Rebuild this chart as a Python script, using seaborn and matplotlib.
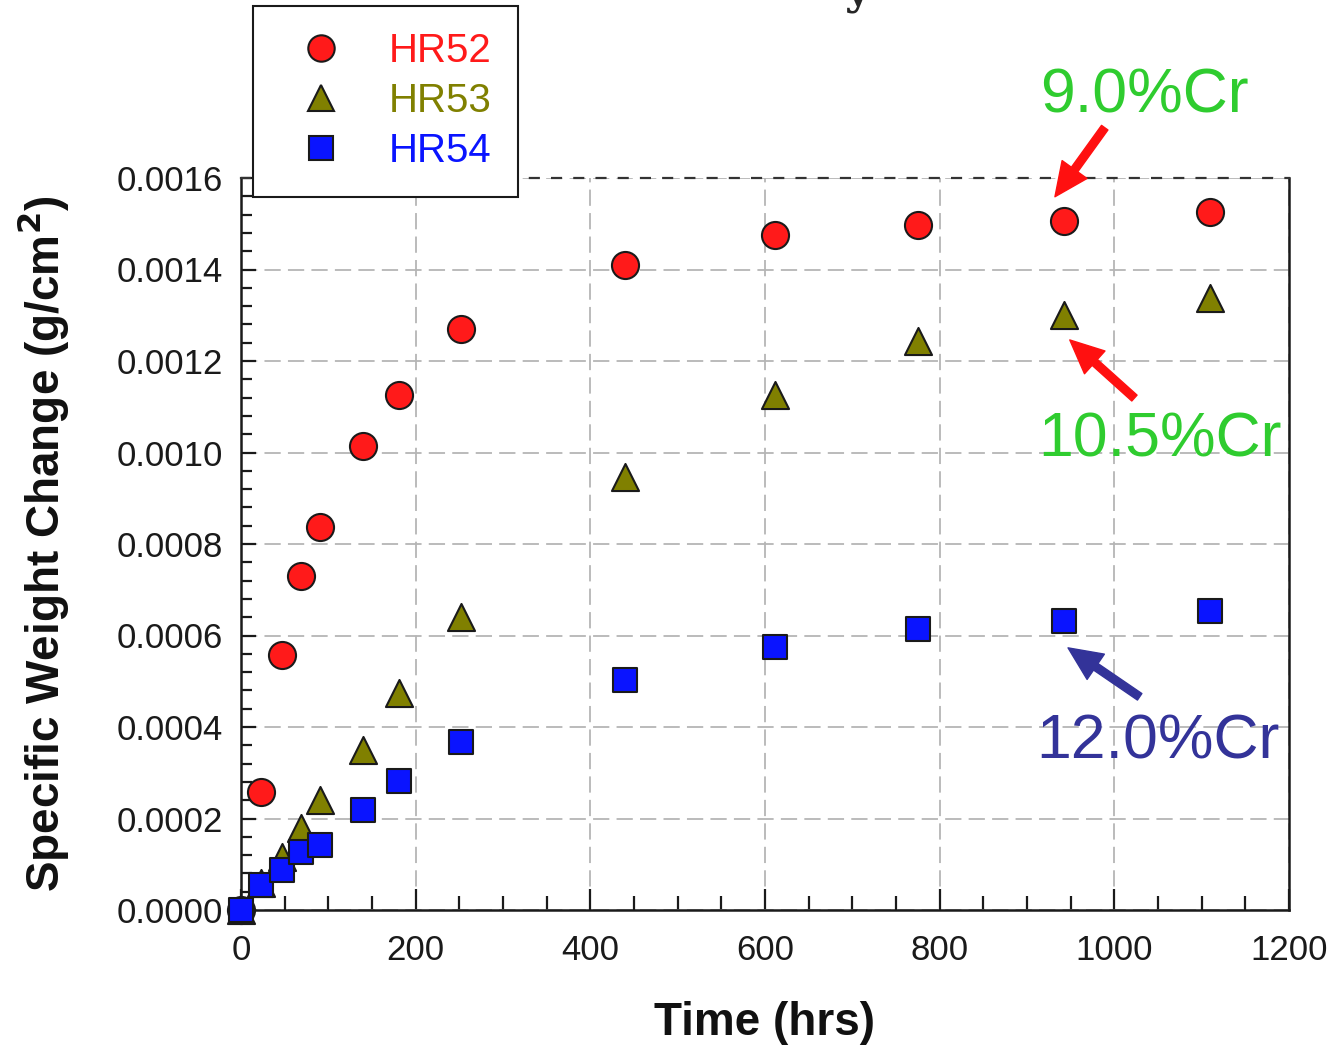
import numpy as np
import pandas as pd
import matplotlib
matplotlib.use("Agg")
import matplotlib.pyplot as plt
import seaborn as sns
from matplotlib.lines import Line2D
from matplotlib.ticker import MultipleLocator, FormatStrFormatter

time_hrs = [0, 23, 47, 69, 90, 140, 181, 252, 440, 612, 775, 942, 1109]
hr52 = [0.0, 0.000258, 0.000557, 0.00073, 0.000837, 0.001014, 0.001126, 0.00127, 0.00141, 0.001476, 0.001497, 0.001506, 0.001526]
hr53 = [0.0, 0.00006, 0.000116, 0.000179, 0.00024, 0.00035, 0.000474, 0.00064, 0.000947, 0.001126, 0.001244, 0.0013, 0.001338]
hr54 = [0.0, 0.000055, 0.000087, 0.000127, 0.000142, 0.000219, 0.000282, 0.000367, 0.000503, 0.000575, 0.000614, 0.000632, 0.000654]
series_names = ["HR52", "HR53", "HR54"]
colors = {"HR52": "#ff1a1a", "HR53": "#808000", "HR54": "#0a14ff"}
markers = {"HR52": "o", "HR53": "^", "HR54": "s"}
sizes = {"HR52": 380, "HR53": 380, "HR54": 290}

df = pd.DataFrame({
    "Time": time_hrs * 3,
    "Change": hr52 + hr53 + hr54,
    "Alloy": ["HR52"] * len(time_hrs) + ["HR53"] * len(time_hrs) + ["HR54"] * len(time_hrs),
})

sns.set_style("white")
plt.rcParams["font.family"] = ["Liberation Sans", "DejaVu Sans"]

fig = plt.figure(figsize=(13.34, 10.46), dpi=100)
ax = fig.add_axes([241/1334, 1-910/1046, (1289-241)/1334, (910-178)/1046])

for name in series_names:
    sub = df[df["Alloy"] == name]
    sns.scatterplot(data=sub, x="Time", y="Change", marker=markers[name], color=colors[name],
                    s=sizes[name], edgecolor="#1a1a1a", linewidth=1.5, ax=ax, legend=False,
                    clip_on=False, zorder=3)

ax.set_xlim(0, 1200)
ax.set_ylim(0, 0.0016)
ax.xaxis.set_major_locator(MultipleLocator(200))
ax.xaxis.set_minor_locator(MultipleLocator(50))
ax.yaxis.set_major_locator(MultipleLocator(0.0002))
ax.yaxis.set_minor_locator(MultipleLocator(0.00004))
ax.yaxis.set_major_formatter(FormatStrFormatter("%.4f"))
ax.tick_params(axis="both", which="both", bottom=True, left=True, top=False, right=False,
               direction="in", width=1.6, color="#1a1a1a", labelcolor="#1a1a1a")
ax.tick_params(axis="x", which="major", length=15, labelsize=25, pad=17)
ax.tick_params(axis="x", which="minor", length=10)
ax.tick_params(axis="y", which="major", length=11, labelsize=25, pad=13)
ax.tick_params(axis="y", which="minor", length=8)
ax.grid(True, which="major", linestyle=(0, (9, 4)), color="#b5b5b5", linewidth=1.3)
for side in ["left", "bottom", "right"]:
    ax.spines[side].set_color("#1a1a1a")
    ax.spines[side].set_linewidth(1.8)
ax.spines["top"].set_color("#333333")
ax.spines["top"].set_linewidth(1.6)
ax.spines["top"].set_linestyle((0, (4, 6)))

ax.set_xlabel("Time (hrs)", fontsize=33, fontweight="bold", labelpad=25, color="#111111")
ax.set_ylabel("Specific Weight Change (g/cm$^\\mathbf{2}$)", fontsize=33, fontweight="bold", labelpad=33, color="#111111")

handles = [Line2D([0], [0], marker=markers[n], color="none", markerfacecolor=colors[n],
                  markeredgecolor="#1a1a1a", markeredgewidth=1.5,
                  markersize=19 if n != "HR54" else 17) for n in series_names]
leg = ax.legend(handles, series_names, loc="upper left", bbox_to_anchor=(253/1334, 1-6/1046),
                bbox_transform=fig.transFigure, borderaxespad=0, fontsize=29, frameon=True,
                fancybox=False, edgecolor="#1a1a1a", framealpha=1, borderpad=0.65,
                labelspacing=0.3, handletextpad=0.62, handlelength=2.1,
                labelcolor=[colors[n] for n in series_names])
leg.get_frame().set_linewidth(1.5)
leg.set_zorder(5)

green = "#2fcc2f"
arrow_style = "simple,head_length=1.15,head_width=1.05,tail_width=0.27"
ax.annotate("", xy=(932, 0.001559), xytext=(989, 0.00171),
            arrowprops=dict(arrowstyle=arrow_style, color="#ff1010", mutation_scale=21, shrinkA=0, shrinkB=0),
            annotation_clip=False)
ax.text(1035, 0.00178, "9.0%Cr", color=green, fontsize=45, ha="center", va="center", clip_on=False)
ax.annotate("", xy=(949, 0.001246), xytext=(1023, 0.001119),
            arrowprops=dict(arrowstyle=arrow_style, color="#ff1010", mutation_scale=21, shrinkA=0, shrinkB=0),
            annotation_clip=False)
ax.text(1052, 0.001027, "10.5%Cr", color=green, fontsize=45, ha="center", va="center", clip_on=False)
ax.annotate("", xy=(947, 0.000573), xytext=(1029, 0.000466),
            arrowprops=dict(arrowstyle=arrow_style, color="#333399", mutation_scale=21, shrinkA=0, shrinkB=0),
            annotation_clip=False)
ax.text(1050, 0.000367, "12.0%Cr", color="#333399", fontsize=45, ha="center", va="center", clip_on=False)

fig.text(0.643, 0.988, "y", fontfamily="DejaVu Serif", fontweight="bold", fontsize=32, ha="center", va="bottom")

fig.savefig("out.png", dpi=100)
